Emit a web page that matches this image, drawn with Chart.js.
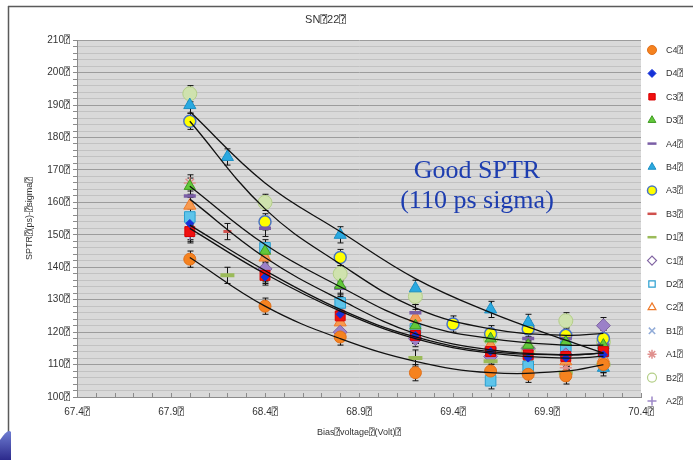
<!DOCTYPE html>
<html>
<head>
<meta charset="utf-8">
<script src="https://cdn.jsdelivr.net/npm/chart.js@4.4.1/dist/chart.umd.min.js"></script>
<style>
  html, body { margin: 0; padding: 0; background: #fff; }
  canvas { display: block; }
</style>
</head>
<body>
<canvas id="sptrChart" width="693" height="460"></canvas>
<script>
// missing-glyph box that the exported labels carry
const BOX = "\u2370";

const seriesNames = ["C4", "D4", "C3", "D3", "A4", "B4", "A3", "B3", "D1", "C1", "D2", "C2", "B1", "A1", "B2", "A2"];

// [bias voltage (V), SPTR sigma (ps)]
const C4 = [[68.0, 142.5], [68.4, 128], [68.8, 118.5], [69.2, 107.5], [69.6, 108], [69.8, 107], [70.0, 106.5], [70.2, 110]];
const D4 = [[68.0, 153.5], [68.4, 137], [68.8, 125.5], [69.2, 119], [69.6, 114], [69.8, 112], [70.0, 112], [70.2, 113]];
const C3 = [[68.0, 151], [68.4, 137.5], [68.8, 125], [69.2, 119], [69.6, 114], [69.8, 113], [70.0, 112.5], [70.2, 114]];
const D3 = [[68.0, 165], [68.4, 145], [68.8, 134.5], [69.2, 122], [69.6, 118], [69.8, 116], [70.0, 117], [70.2, 116]];
const A4 = [[68.0, 162], [68.4, 152], [68.8, 133.5], [69.2, 126], [69.6, 115], [69.8, 118], [70.0, 118], [70.2, 116]];
const B4 = [[68.0, 190], [68.2, 174], [68.8, 150], [69.2, 133.5], [69.6, 127], [69.8, 123], [70.2, 109]];
const A3 = [[68.0, 185], [68.4, 154], [68.8, 143], [69.4, 122.5], [69.6, 119.5], [69.8, 121], [70.0, 119], [70.2, 118]];
const B3 = [[68.0, 152], [68.2, 151], [68.4, 138.5], [68.8, 126.5], [69.2, 120], [69.6, 114.5], [70.0, 112], [70.2, 113]];
const D1 = [[68.2, 137.5], [69.2, 112], [69.6, 111], [70.0, 107.5], [70.2, 110]];
const C1 = [[68.4, 139.5], [68.8, 120], [69.2, 118], [69.6, 112.5], [69.8, 115], [70.0, 113], [70.2, 122]];
const D2 = [[68.0, 155.5], [68.4, 146], [68.8, 129], [69.2, 121], [69.6, 105], [69.8, 109.5], [70.0, 115.5], [70.2, 114]];
const C2 = [[68.0, 159], [68.4, 143], [68.8, 123], [69.2, 124.5], [69.6, 116], [69.8, 111], [70.0, 111], [70.2, 112]];
const B1 = [[68.0, 150.5], [68.4, 139], [68.8, 127], [69.2, 119], [69.6, 116], [69.8, 113], [70.0, 112], [70.2, 113]];
const A1 = [[68.0, 166], [68.4, 144.5], [68.8, 127.5], [69.2, 122], [69.6, 114], [69.8, 112], [70.0, 109], [70.2, 115]];
const B2 = [[68.0, 193.5], [68.4, 160], [68.8, 138], [69.2, 131], [69.6, 118], [69.8, 114.5], [70.0, 123.5], [70.2, 117]];
const A2 = [[68.0, 150], [68.4, 138], [68.8, 126], [69.2, 119], [69.6, 115], [69.8, 112], [70.0, 111], [70.2, 113]];

// fitted trend curves, read at these voltages
const trendVolts = [68.0, 68.4, 68.8, 69.2, 69.6, 70.0, 70.2];
const trendB4 = [188, 166, 151, 136.5, 126, 117.5, 113.5];
const trendA3 = [185, 158, 141, 127.5, 121, 119, 119.6];
const trendD3 = [165, 147, 134, 123, 118, 116, 116];
const trendA4 = [161, 143, 130, 119.5, 114.5, 113, 113.5];
const trendC3 = [153, 139, 127, 118.5, 114, 113, 113.5];
const trendD4 = [152, 138, 126.5, 118, 113.5, 112, 112.5];
const trendC4 = [143, 128, 118, 111, 107.5, 108, 110];

const sigmaError = 2.5; // ps, error bar half-height

const points = { C4, D4, C3, D3, A4, B4, A3, B3, D1, C1, D2, C2, B1, A1, B2, A2 };
const trends = [trendB4, trendA3, trendD3, trendA4, trendC3, trendD4, trendC4];

const markers = {
  C4: { style: "circle", r: 6, fill: "#f5821f", line: "#e0701a", w: 1 },
  D4: { style: "rectRot", r: 4, fill: "#1531d8", line: "#1531d8", w: 1 },
  C3: { style: "rect", r: 7, fill: "#f01010", line: "#d80000", w: 1 },
  D3: { style: "triangle", r: 6.5, fill: "#62c83a", line: "#3f9b22", w: 1 },
  A4: { style: "line", r: 6, fill: "#7a5ea6", line: "#7a5ea6", w: 3.5 },
  B4: { style: "triangle", r: 7, fill: "#2aa9e0", line: "#1b8fc4", w: 1 },
  A3: { style: "circle", r: 6, fill: "#ffff00", line: "#4a74c4", w: 1.5 },
  B3: { style: "line", r: 4, fill: "#d0504d", line: "#d0504d", w: 3 },
  D1: { style: "line", r: 7, fill: "#9bbb59", line: "#9bbb59", w: 4 },
  C1: { style: "rectRot", r: 7, fill: "#9b80c8", line: "#8064a2", w: 1, hollow: true },
  D2: { style: "rect", r: 7.5, fill: "#5ec4ea", line: "#2a9fd0", w: 1, hollow: true },
  C2: { style: "triangle", r: 7, fill: "#f79a50", line: "#ee7a2a", w: 1, hollow: true },
  B1: { style: "crossRot", r: 6, fill: "#92acd8", line: "#92acd8", w: 1.5 },
  A1: { style: "star", r: 6, fill: "#e0908e", line: "#e0908e", w: 1.5 },
  B2: { style: "circle", r: 7, fill: "#cfe2ae", line: "#b4cf88", w: 1, hollow: true },
  A2: { style: "cross", r: 5, fill: "#9d88c8", line: "#9d88c8", w: 1.5 }
};

const datasets = [];
trends.forEach(function (vals) {
  datasets.push({
    label: "",
    isTrend: true,
    data: trendVolts.map((v, i) => ({ x: v, y: vals[i] })),
    showLine: true,
    borderColor: "#111",
    borderWidth: 1.3,
    pointRadius: 0,
    tension: 0.4,
    order: 0
  });
});
seriesNames.forEach(function (name) {
  const m = markers[name];
  datasets.push({
    label: name,
    data: points[name].map(p => ({ x: p[0], y: p[1] })),
    showLine: false,
    pointStyle: m.style,
    pointRadius: m.r,
    pointBackgroundColor: m.fill,
    pointBorderColor: m.line,
    pointBorderWidth: m.w,
    order: 1
  });
});

const fontFamily = "'Liberation Sans', 'DejaVu Sans', 'DejaVu Sans Mono', sans-serif";

// page frame, grey plot background and the little logo corner
const backdrop = {
  id: "backdrop",
  beforeDraw(chart) {
    const ctx = chart.ctx, a = chart.chartArea;
    ctx.save();
    ctx.fillStyle = "#fff";
    ctx.fillRect(0, 0, chart.width, chart.height);
    ctx.strokeStyle = "#5a5a5a";
    ctx.lineWidth = 1.5;
    ctx.beginPath();
    ctx.moveTo(8, 6.5);
    ctx.lineTo(chart.width, 6.5);
    ctx.moveTo(8.5, 6);
    ctx.lineTo(8.5, chart.height);
    ctx.stroke();
    const g = ctx.createLinearGradient(0, 425, 0, 460);
    g.addColorStop(0, "#7c8ee0");
    g.addColorStop(1, "#2c2a8c");
    ctx.fillStyle = g;
    ctx.beginPath();
    ctx.moveTo(0, 440);
    ctx.quadraticCurveTo(8, 428, 11, 432);
    ctx.lineTo(11, 460);
    ctx.lineTo(0, 460);
    ctx.fill();
    ctx.fillStyle = "#d9d9d9";
    ctx.fillRect(a.left, a.top, a.right - a.left, a.bottom - a.top);
    ctx.restore();
  }
};

// black I-bars behind every measured point
const errorBars = {
  id: "errorBars",
  beforeDatasetsDraw(chart) {
    const ctx = chart.ctx, ys = chart.scales.y;
    ctx.save();
    ctx.strokeStyle = "#111";
    ctx.lineWidth = 1;
    chart.data.datasets.forEach(function (ds, di) {
      if (ds.isTrend) return;
      chart.getDatasetMeta(di).data.forEach(function (pt, i) {
        const v = ds.data[i].y;
        const x = Math.round(pt.x) + 0.5;
        const top = ys.getPixelForValue(v + sigmaError);
        const bot = ys.getPixelForValue(v - sigmaError);
        ctx.beginPath();
        ctx.moveTo(x, top); ctx.lineTo(x, bot);
        ctx.moveTo(x - 3, top); ctx.lineTo(x + 3, top);
        ctx.moveTo(x - 3, bot); ctx.lineTo(x + 3, bot);
        ctx.stroke();
      });
    });
    ctx.restore();
  }
};

// inward minor ticks on the voltage axis, side legend, and the note
const overlay = {
  id: "overlay",
  afterDraw(chart) {
    const ctx = chart.ctx, xs = chart.scales.x, a = chart.chartArea;
    ctx.save();
    ctx.strokeStyle = "#8a8a8a";
    ctx.lineWidth = 1;
    ctx.beginPath();
    xs.ticks.forEach(function (t, i) {
      const x = Math.round(xs.getPixelForTick(i)) + 0.5;
      ctx.moveTo(x, a.bottom);
      ctx.lineTo(x, a.bottom - 4);
    });
    ctx.stroke();

    const lx = 652, ly = 50, step = 23.4;
    seriesNames.forEach(function (name, i) {
      const m = markers[name];
      const y = ly + i * step;
      ctx.fillStyle = m.hollow ? "#fff" : m.fill;
      ctx.strokeStyle = m.hollow ? m.line : m.line;
      ctx.lineWidth = m.hollow ? 1.2 : (m.style === "line" ? Math.min(m.w, 2.5) : m.w);
      Chart.helpers.drawPoint(ctx, {
        pointStyle: m.style,
        radius: m.style === "line" ? 4.5 : Math.min(m.r, 4.5),
        rotation: 0,
        borderWidth: ctx.lineWidth
      }, lx, y);
      ctx.fillStyle = "#333";
      ctx.font = "9px " + fontFamily;
      ctx.textAlign = "left";
      ctx.textBaseline = "middle";
      ctx.fillText(name + BOX, 666, y + 0.5);
    });

    ctx.fillStyle = "#1d3db0";
    ctx.font = "26px 'Liberation Serif', 'DejaVu Serif', serif";
    ctx.textAlign = "center";
    ctx.textBaseline = "alphabetic";
    ctx.fillText("Good SPTR", 477, 178);
    ctx.fillText("(110 ps sigma)", 477, 208);
    ctx.restore();
  }
};

new Chart(document.getElementById("sptrChart"), {
  type: "scatter",
  data: { datasets: datasets },
  plugins: [backdrop, errorBars, overlay],
  options: {
    responsive: false,
    animation: false,
    devicePixelRatio: 1,
    layout: { padding: { left: 10, right: 52, top: 0, bottom: 17 } },
    plugins: {
      legend: { display: false },
      tooltip: { enabled: false },
      title: {
        display: true,
        text: "SN" + BOX + "22" + BOX,
        color: "#333",
        font: { family: fontFamily, size: 11, weight: "normal" },
        padding: { top: 13, bottom: 14 }
      }
    },
    scales: {
      x: {
        type: "linear",
        min: 67.4,
        max: 70.4,
        afterFit(scale) { scale.height = 46; },
        grid: { drawOnChartArea: false, drawTicks: false },
        border: { color: "#8c8c8c" },
        ticks: {
          stepSize: 0.1,
          autoSkip: false,
          maxRotation: 0,
          padding: 9,
          color: "#333",
          font: { family: fontFamily, size: 10 },
          callback: (v, i) => (i % 5 === 0 ? v.toFixed(1) + BOX : "")
        },
        title: {
          display: true,
          text: "Bias" + BOX + "voltage" + BOX + "(Volt)" + BOX,
          color: "#333",
          font: { family: fontFamily, size: 9 },
          padding: { top: 0, bottom: 5 }
        }
      },
      y: {
        min: 100,
        max: 210,
        afterFit(scale) { scale.width = 67; },
        grid: {
          color: ctx => (ctx.tick && ctx.tick.value % 10 === 0 ? "#9c9c9c" : "#c2c2c2"),
          tickLength: 4,
          tickColor: "#8c8c8c"
        },
        border: { color: "#8c8c8c" },
        ticks: {
          stepSize: 2,
          autoSkip: false,
          padding: 3,
          color: "#333",
          font: { family: fontFamily, size: 10 },
          callback: v => (v % 10 === 0 ? v + BOX : "")
        },
        title: {
          display: true,
          text: "SPTR" + BOX + "(ps)-" + BOX + "sigma" + BOX,
          color: "#333",
          font: { family: fontFamily, size: 9 },
          padding: { top: 14, bottom: 0 }
        }
      }
    }
  }
});
</script>
</body>
</html>
